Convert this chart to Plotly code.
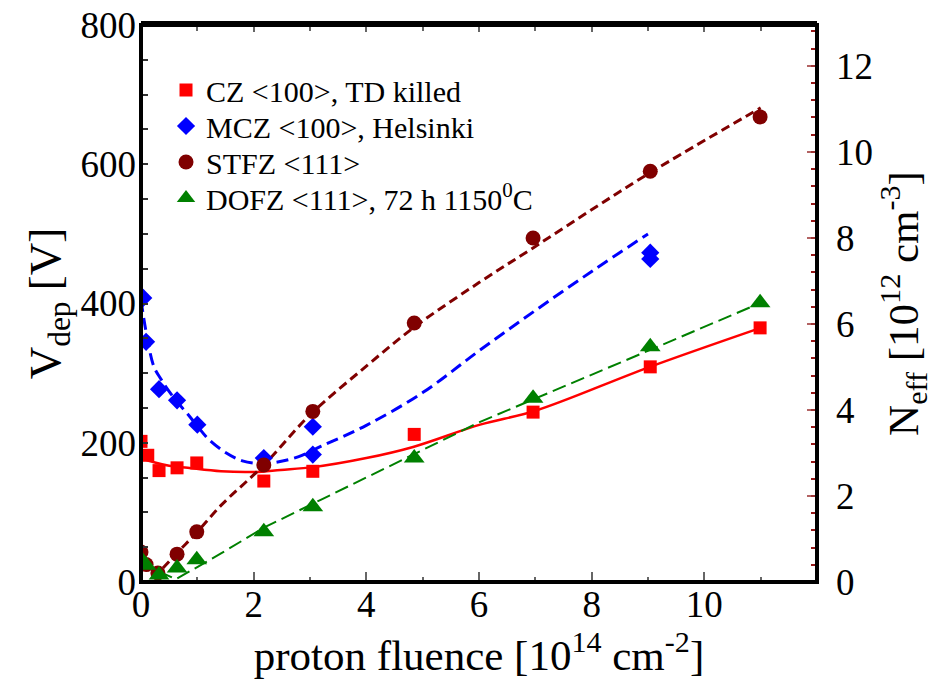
import plotly.graph_objects as go

# ---------------- data ----------------
# measured points: fluence [1e14 cm^-2], Vdep [V]
cz_x = [0.0, 0.12, 0.32, 0.64, 0.99, 2.18, 3.05, 4.85, 6.96, 9.04, 10.99]
cz_v = [202, 182, 160, 164, 171, 145, 159, 212, 244, 309, 365]

mcz_x = [0.04, 0.09, 0.32, 0.64, 1.0, 2.18, 3.05, 3.05, 9.04, 9.04]
mcz_v = [408, 345, 277, 261, 226, 178, 223, 183, 473, 464]

stfz_x = [0.0, 0.09, 0.3, 0.64, 0.99, 2.18, 3.05, 4.85, 6.96, 9.04, 10.99]
stfz_v = [43, 25, 13, 40, 72, 168, 245, 372, 494, 590, 668]

dofz_x = [0.0, 0.09, 0.32, 0.64, 0.99, 2.18, 3.05, 4.85, 6.96, 9.04, 10.99]
dofz_v = [33, 24, 10, 20, 32, 72, 108, 178, 264, 338, 401]

# fit curves
cz_fit_x = [0.0, 0.23, 0.5, 0.83, 1.42, 2.0, 2.48, 3.06, 4.0, 4.83, 6.02, 7.0, 9.0, 11.0]
cz_fit_v = [178, 172, 167, 164, 159, 158, 161, 165, 178, 194, 226, 246, 308, 365]

mcz_fit_x = [0.0, 0.1, 0.23, 0.35, 0.47, 0.64, 0.82, 1.0, 1.2, 1.5, 1.8, 2.1, 2.4, 2.8, 3.2,
             4.0, 5.0, 6.0, 7.0, 8.0, 9.0]
mcz_fit_v = [405, 355, 309, 292, 277, 259, 242, 224, 205, 186, 174, 170, 172, 180, 195,
             225, 272, 332, 390, 446, 500]

stfz_fit_x = [0.22, 0.62, 1.0, 1.42, 2.18, 3.0, 4.0, 4.85, 6.0, 7.0, 8.14, 9.04, 11.0]
stfz_fit_v = [5, 40, 72, 110, 168, 240, 310, 366, 430, 482, 542, 588, 681]

dofz_fit_x = [0.0, 0.62, 1.42, 2.18, 3.19, 4.25, 6.02, 9.03, 11.0]
dofz_fit_v = [27, 4, 41, 78, 118, 160, 230, 333, 401]

names = ["CZ <100>, TD killed", "MCZ <100>, Helsinki", "STFZ <111>",
         "DOFZ <111>, 72 h 1150<sup>0</sup>C"]

x_tickvals = [0, 2, 4, 6, 8, 10]
x_ticktext = ["0", "2", "4", "6", "8", "10"]
y_tickvals = list(range(0, 801, 50))
y_ticktext = [str(v) if v % 200 == 0 else "" for v in y_tickvals]
y2_tickvals = [0, 2, 4, 6, 8, 10, 12]
y2_ticktext = ["0", "2", "4", "6", "8", "10", "12"]

FONT = "Liberation Serif, Times New Roman, serif"
TICK = 37

fig = go.Figure()

# fit lines
fig.add_trace(go.Scatter(x=cz_fit_x, y=cz_fit_v, mode="lines", showlegend=False,
                         line=dict(color="#ff0000", width=2.5, shape="spline")))
fig.add_trace(go.Scatter(x=mcz_fit_x, y=mcz_fit_v, mode="lines", showlegend=False,
                         line=dict(color="#0000ff", width=3, dash="12px,6px", shape="spline")))
fig.add_trace(go.Scatter(x=stfz_fit_x, y=stfz_fit_v, mode="lines", showlegend=False,
                         line=dict(color="#800000", width=3, dash="9px,5px", shape="spline")))
fig.add_trace(go.Scatter(x=dofz_fit_x, y=dofz_fit_v, mode="lines", showlegend=False,
                         line=dict(color="#008000", width=2, dash="14px,6px")))

# markers (each in its own legend so row spacing can match the original)
fig.add_trace(go.Scatter(x=cz_x, y=cz_v, mode="markers", name=names[0], legend="legend",
                         marker=dict(symbol="square", size=13, color="#ff0000")))
fig.add_trace(go.Scatter(x=mcz_x, y=mcz_v, mode="markers", name=names[1], legend="legend2",
                         marker=dict(symbol="diamond", size=14, color="#0000ff")))
fig.add_trace(go.Scatter(x=stfz_x, y=stfz_v, mode="markers", name=names[2], legend="legend3",
                         marker=dict(symbol="circle", size=15, color="#800000")))
fig.add_trace(go.Scatter(x=dofz_x, y=dofz_v, mode="markers", name=names[3], legend="legend4",
                         marker=dict(symbol="triangle-up", size=18, color="#008000")))

# invisible copies that activate the right-hand and top axes
fig.add_trace(go.Scatter(x=cz_x, y=[v / 800 * 12.95 for v in cz_v], yaxis="y2", mode="markers",
                         marker=dict(opacity=0), showlegend=False, hoverinfo="skip"))
fig.add_trace(go.Scatter(x=cz_x, y=cz_v, xaxis="x2", mode="markers",
                         marker=dict(opacity=0), showlegend=False, hoverinfo="skip"))

def leg(ypos):
    return dict(x=0.037, y=ypos, xanchor="left", yanchor="middle",
                font=dict(family=FONT, size=30, color="black"),
                bgcolor="rgba(0,0,0,0)", itemsizing="trace", borderwidth=0)

fig.update_layout(
    template="none",
    width=937, height=683,
    margin=dict(l=141, r=120, t=25, b=101, autoexpand=False),
    paper_bgcolor="white", plot_bgcolor="white",
    font=dict(family=FONT, size=TICK, color="black"),
    showlegend=True,
    legend=leg((582 - 90) / 557),
    legend2=leg((582 - 126) / 557),
    legend3=leg((582 - 162) / 557),
    legend4=leg((582 - 198) / 557),
    xaxis=dict(range=[0, 12], tickvals=x_tickvals, ticktext=x_ticktext, automargin=False,
               ticks="inside", ticklen=10, tickwidth=1.5, tickcolor="#666666",
               minor=dict(dtick=1, tick0=0, ticks="inside", ticklen=5, tickcolor="#666666", tickwidth=1.5),
               showline=False, showgrid=False, zeroline=False, ticklabelstandoff=-3,
               ticklabeloverflow="allow",
               tickfont=dict(family=FONT, size=TICK),
               title=dict(text="proton fluence [10<sup>14</sup> cm<sup>-2</sup>]",
                          font=dict(family=FONT, size=43), standoff=0)),
    xaxis2=dict(range=[0, 12], overlaying="x", side="top", anchor="y", automargin=False,
                tickvals=x_tickvals, showticklabels=False,
                ticks="inside", ticklen=7, tickwidth=1.5, tickcolor="#666666",
                minor=dict(dtick=1, tick0=0, ticks="inside", ticklen=6, tickcolor="#666666", tickwidth=1.5),
                showline=True, linecolor="black", linewidth=4,
                showgrid=False, zeroline=False),
    yaxis=dict(range=[0, 800], tickvals=y_tickvals, ticktext=y_ticktext, automargin=False,
               ticks="inside", ticklen=7, tickwidth=1.5, tickcolor="#333333",
               showline=False, showgrid=False, zeroline=False, ticklabelstandoff=4,
               ticklabeloverflow="allow",
               tickfont=dict(family=FONT, size=TICK),
               title=dict(text="V<sub>dep</sub> [V]", font=dict(family=FONT, size=45), standoff=5)),
    yaxis2=dict(range=[0, 12.95], overlaying="y", side="right", automargin=False,
                tickvals=y2_tickvals, ticktext=y2_ticktext,
                ticks="inside", ticklen=10, tickwidth=1.5, tickcolor="rgba(160,60,60,0.8)",
                minor=dict(dtick=0.4, tick0=0, ticks="inside", ticklen=6,
                           tickcolor="rgba(140,0,0,0.9)", tickwidth=1.5),
                showline=False, showgrid=False, zeroline=False, ticklabelstandoff=18,
                ticklabeloverflow="allow",
                tickfont=dict(family=FONT, size=TICK),
                title=dict(text="N<sub>eff</sub> [10<sup>12</sup> cm<sup>-3</sup>]",
                           font=dict(family=FONT, size=43), standoff=7)),
    shapes=[dict(type="rect", xref="paper", yref="paper", x0=0, x1=1, y0=0, y1=1,
                 line=dict(color="black", width=4), fillcolor="rgba(0,0,0,0)", layer="above")],
)

# remove the browser's default 8px body margin so the figure sits at (0, 0)
fig.write_html("out.html", config={"displayModeBar": False},
               post_script="document.body.style.margin='0';")
